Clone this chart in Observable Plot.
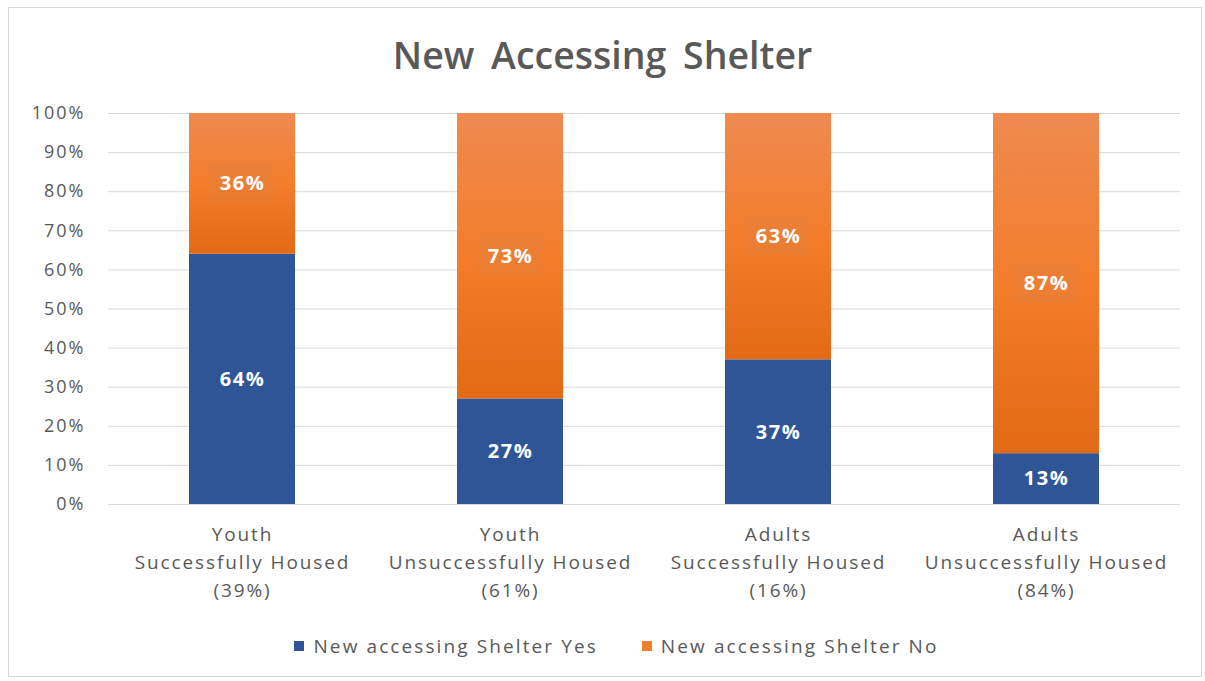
<!DOCTYPE html>
<html>
<head>
<meta charset="utf-8">
<script src="https://cdn.jsdelivr.net/npm/d3@7"></script>
<script src="https://cdn.jsdelivr.net/npm/@observablehq/plot@0.6"></script>
<style>
  html, body { margin: 0; padding: 0; background: #fff; }
  body { width: 1205px; height: 681px; position: relative; overflow: hidden; font-family: "Open Sans", "Liberation Sans", sans-serif; }
  #frame { position: absolute; left: 8px; top: 7px; width: 1194px; height: 670px; border: 1px solid #d9d9d9; box-sizing: border-box; }
  #title { position: absolute; left: 0; top: 30px; width: 1205px; text-align: center; font-family: "Open Sans", sans-serif; font-weight: 600; font-size: 37.5px; color: #595959; line-height: 50px; word-spacing: 7px; }
  #chart { position: absolute; left: 0; top: 95px; }
  #legend { position: absolute; left: 14px; top: 633px; width: 1205px; display: flex; justify-content: center; font-size: 19px; letter-spacing: 2.1px; color: #595959; }
  .item { display: flex; align-items: center; margin: 0 22px; }
  .sw { width: 10px; height: 10px; margin-right: 9px; }
</style>
</head>
<body>
<div id="frame"></div>
<div id="title">New Accessing Shelter</div>
<div id="chart"></div>
<div id="legend"></div>
<script>
const categories = [
  "Youth\nSuccessfully Housed\n(39%)",
  "Youth\nUnsuccessfully Housed\n(61%)",
  "Adults\nSuccessfully Housed\n(16%)",
  "Adults\nUnsuccessfully Housed\n(84%)"
];
const seriesNames = ["New accessing Shelter Yes", "New accessing Shelter No"];
const yesValues = [64, 27, 37, 13];
const noValues = [36, 73, 63, 87];
const yTicks = [0, 10, 20, 30, 40, 50, 60, 70, 80, 90, 100];
const colors = ["#2F5597", "url(#orangeGrad)"];
const legendColors = ["#2F5597", "#F07F2F"];

const data = [];
categories.forEach((c, i) => {
  data.push({category: c, series: seriesNames[0], value: yesValues[i]});
  data.push({category: c, series: seriesNames[1], value: noValues[i]});
});

const plot = Plot.plot({
  width: 1205,
  height: 520,
  marginLeft: 108,
  marginRight: 25,
  marginTop: 18,
  marginBottom: 111,
  style: {fontFamily: '"Open Sans", "Liberation Sans", sans-serif', color: "#595959", background: "transparent"},
  x: {domain: categories, paddingInner: 0.604, paddingOuter: 0.302, label: null},
  y: {domain: [0, 100], label: null},
  color: {domain: seriesNames, range: colors},
  marks: [
    Plot.gridY(yTicks, {stroke: "#d9d9d9", strokeOpacity: 1, strokeWidth: 1}),
    Plot.barY(data, Plot.stackY({x: "category", y: "value", z: "series", fill: "series", order: seriesNames})),
    Plot.text(data, Plot.stackY({x: "category", y: "value", z: "series", order: seriesNames, text: d => d.value + "%", fill: "white", fontWeight: "bold", fontSize: 20})),
    Plot.axisY(yTicks, {tickSize: 0, tickPadding: 23, tickFormat: d => d + "%", fontSize: 18, fill: "#595959"}),
    Plot.axisX({tickSize: 0, tickPadding: 17, fontSize: 19, lineHeight: 1.47, fill: "#595959"})
  ]
});

const svg = d3.select(plot);
const defs = svg.insert("defs", ":first-child");
const grad = defs.append("linearGradient").attr("id", "orangeGrad").attr("x1", 0).attr("y1", 0).attr("x2", 0).attr("y2", 1);
grad.append("stop").attr("offset", "0%").attr("stop-color", "#EF8A50");
grad.append("stop").attr("offset", "50%").attr("stop-color", "#F37D2B");
grad.append("stop").attr("offset", "100%").attr("stop-color", "#E26A15");
svg.selectAll('g[aria-label="y-axis tick label"] text').attr("letter-spacing", "2px");
svg.selectAll('g[aria-label="x-axis tick label"] text').attr("letter-spacing", "1.9px");
svg.selectAll('g[aria-label="text"] text').attr("letter-spacing", "1.5px");
document.getElementById("chart").appendChild(plot);

// faint label boxes behind the orange segment labels, sized from the rendered text
svg.selectAll('g[aria-label="text"] text').each(function(idx) {
  const row = data[idx];
  if (row && row.series === seriesNames[1]) {
    const b = this.getBBox();
    const tf = this.getAttribute("transform");
    const r = d3.select(this.parentNode).insert("rect", () => this)
      .attr("x", (this.getAttribute("x") ? +this.getAttribute("x") : 0) + b.x - (this.getAttribute("x") ? +this.getAttribute("x") : 0) - 10)
      .attr("y", b.y - 6)
      .attr("width", b.width + 18).attr("height", b.height + 12)
      .attr("fill", "#c98a60").attr("fill-opacity", 0.16);
    if (tf) r.attr("transform", tf);
  }
});

const legend = d3.select("#legend");
seriesNames.forEach((s, i) => {
  const it = legend.append("div").attr("class", "item");
  it.append("div").attr("class", "sw").style("background", legendColors[i]);
  it.append("span").text(s);
});
</script>
</body>
</html>
